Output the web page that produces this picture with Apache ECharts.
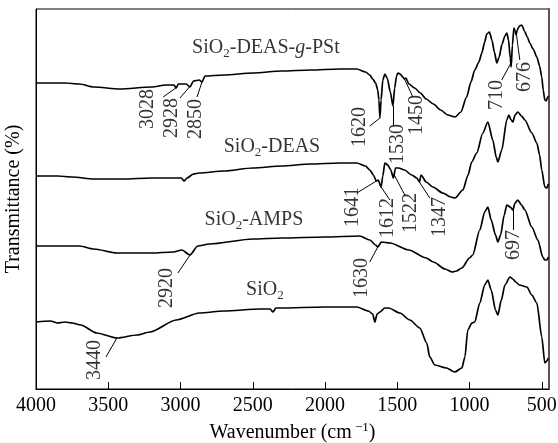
<!DOCTYPE html>
<html>
<head>
<meta charset="utf-8">
<script src="https://cdn.jsdelivr.net/npm/echarts@6/dist/echarts.min.js"></script>
<style>
  html, body { margin: 0; padding: 0; background: #fff; }
  #chart { width: 558px; height: 443px; }
</style>
</head>
<body>
<div id="chart"></div>
<script>
// FTIR spectra, stacked with vertical offsets: [wavenumber (cm-1), transmittance (a.u.)]
const xTicks = [4000, 3500, 3000, 2500, 2000, 1500, 1000, 500];

const specGPSt = [
  [4000,306],[3800,306],[3700,305],[3600,302],[3420,300],[3200,302],[3100,304],[3045,304],
  [3030,301],[3015,305],[2960,305],[2935,302],[2910,308],[2870,309],[2852,307],[2830,313],
  [2700,314],[2500,316],[2300,318],[2100,319],[1900,320],[1780,320],[1720,317],[1690,314],
  [1670,310],[1650,306],[1635,299],[1627,289],[1620,271],[1612,289],[1600,309],[1586,315],
  [1570,311],[1548,297],[1530,283],[1518,301],[1505,313],[1495,316],[1480,315],[1462,312],
  [1450,310],[1440,311],[1420,305],[1380,301],[1340,296],[1300,290],[1250,285],[1200,279],
  [1150,274],[1100,272],[1060,277],[1020,292],[990,307],[964,319],[935,327],[915,336],
  [895,347],[881,355],[862,357],[845,349],[828,337],[811,326],[795,332],[775,345],
  [755,353],[742,356],[730,349],[718,331],[712,322],[703,344],[693,361],[684,358],
  [678,354],[670,359],[655,363],[638,364],[620,358],[600,352],[583,346],[560,340],
  [534,332],[515,323],[500,312],[490,299],[479,289],[470,288],[459,292],[452,293]
];

const specDEAS = [
  [4000,213],[3850,213],[3750,212],[3600,210],[3400,210],[3200,211],[3050,211],[2995,211],
  [2975,208],[2955,211],[2910,215],[2870,216],[2700,218],[2500,221],[2300,223],[2100,225],
  [1900,226],[1780,226],[1720,223],[1690,219],[1665,214],[1645,208],[1632,209],[1612,202],
  [1600,213],[1586,226],[1565,224],[1545,219],[1527,211],[1512,221],[1490,221],[1450,219],
  [1400,214],[1365,211],[1347,207],[1335,214],[1300,207],[1254,202],[1185,196],[1130,192],
  [1100,191],[1046,199],[1010,214],[985,227],[950,236],[908,256],[873,267],[839,249],
  [815,232],[804,227],[777,239],[742,269],[728,274],[712,269],[700,267],[685,274],
  [666,277],[640,273],[617,269],[569,256],[534,246],[515,234],[500,219],[479,202],
  [465,201],[455,205]
];

const specAMPS = [
  [4000,143],[3700,143],[3600,140],[3440,136],[3200,136],[3050,137],[2990,139],[2935,134],
  [2880,143],[2800,145],[2500,150],[2300,151],[2000,152],[1760,153],[1690,149],[1650,144],
  [1635,142],[1610,147],[1550,146],[1420,139],[1300,131],[1250,127],[1170,120],[1120,117],
  [1090,118],[1053,121],[1000,131],[978,134],[929,159],[895,177],[873,182],[850,169],
  [820,154],[804,147],[785,154],[760,174],[742,184],[718,182],[700,179],[685,186],
  [666,189],[640,184],[617,179],[569,162],[527,149],[493,132],[479,129],[465,129],[455,132]
];

const specSiO2 = [
  [4000,67],[3900,68],[3850,66],[3800,67],[3750,66],[3690,64],[3580,56],[3440,51],
  [3300,54],[3211,57],[3030,69],[2870,76],[2700,78],[2450,80],[2380,80],[2360,77],
  [2340,81],[2312,81],[2000,82],[1780,82],[1700,78],[1670,75],[1655,67],[1640,75],
  [1620,77],[1586,81],[1560,81],[1482,76],[1413,69],[1344,61],[1296,46],[1275,32],
  [1240,24],[1160,21],[1102,17],[1053,21],[1032,32],[1012,59],[984,66],[964,67],
  [929,86],[895,104],[873,109],[850,99],[820,79],[804,74],[780,89],[755,104],
  [720,112],[700,110],[680,107],[655,104],[603,102],[569,94],[534,86],[500,52],
  [479,26],[465,28],[455,31]
];

const spectra = [specGPSt, specDEAS, specAMPS, specSiO2];

// Sample names (rich-text markup for subscripts / italics)
const sampleNames = [
  '{a|SiO}{b|2}{a|-DEAS-}{i|g}{a|-PSt}',
  '{a|SiO}{b|2}{a|-DEAS}',
  '{a|SiO}{b|2}{a|-AMPS}',
  '{a|SiO}{b|2}'
];

// Assigned absorption bands and the spectrum each belongs to
const peakLabels = ['3028','2928','2850','1620','1530','1450','710','676',
                    '1641','1612','1522','1347','2920','1630','697','3440'];
const peakWavenumbers = [3028, 2928, 2850, 1620, 1530, 1450, 710, 676,
                         1641, 1612, 1522, 1347, 2930, 1635, 697, 3440];
const peakSpectrum = [0,0,0,0,0,0,0,0, 1,1,1,1, 2,2,2, 3];

// Placement of annotation text and leader-line ends (data coordinates)
const nameAnchors = [[2409,341],[2367,242],[2492,169],[2416,99]];
const leaderEnds = [[3120,292],[3004,291],[2886,292],[1690,263],[1530,264],[1392,292],[777,309],[652,329],
                    [1780,196],[1551,189],[1448,194],[1275,191],[3018,116],[1690,127],[697,159],[3516,32]];
const labelAnchors = [[3225,280],[3059,271],[2893,270],[1759,262],[1496,245],[1365,274],[811,294],[618,312],
                      [1807,182],[1565,171],[1406,176],[1206,172],[3094,101],[1745,111],[694,144],[3592,29]];

const FONT = '"Liberation Serif", "Times New Roman", serif';

function valueAt(data, wn) {
  for (let i = 0; i < data.length - 1; i++) {
    const a = data[i], b = data[i + 1];
    if (wn <= a[0] && wn >= b[0]) {
      const t = (a[0] - wn) / (a[0] - b[0]);
      return a[1] + t * (b[1] - a[1]);
    }
  }
  return data[data.length - 1][1];
}

const chart = echarts.init(document.getElementById('chart'), null, { renderer: 'canvas' });

const lineSeries = spectra.map(d => ({
  type: 'line',
  data: d,
  showSymbol: false,
  smooth: 0.25,
  smoothMonotone: 'x',
  lineStyle: { color: '#000', width: 1.7 },
  silent: true,
  z: 3
}));

const leaderSeries = {
  type: 'lines',
  coordinateSystem: 'cartesian2d',
  silent: true,
  lineStyle: { color: '#000', width: 1, opacity: 1 },
  data: peakWavenumbers.map((wn, i) => ({
    coords: [[wn, valueAt(spectra[peakSpectrum[i]], wn)], leaderEnds[i]]
  })),
  z: 4
};

const peakTextSeries = {
  type: 'scatter',
  silent: true,
  symbolSize: 1,
  itemStyle: { color: 'rgba(0,0,0,0)' },
  label: {
    show: true,
    position: 'inside',
    rotate: 90,
    fontFamily: FONT,
    fontSize: 20,
    color: '#000'
  },
  data: labelAnchors.map((p, i) => ({ value: p, label: { formatter: peakLabels[i] } })),
  z: 5
};

const nameRich = {
  a: { fontFamily: FONT, fontSize: 20, color: '#000', lineHeight: 24 },
  i: { fontFamily: FONT, fontSize: 20, color: '#000', fontStyle: 'italic', lineHeight: 24 },
  b: { fontFamily: FONT, fontSize: 13, color: '#000', verticalAlign: 'bottom' }
};

const nameSeries = {
  type: 'scatter',
  silent: true,
  symbolSize: 1,
  itemStyle: { color: 'rgba(0,0,0,0)' },
  label: { show: true, position: 'inside', rich: nameRich },
  data: nameAnchors.map((p, i) => ({ value: p, label: { formatter: sampleNames[i] } })),
  z: 5
};

chart.setOption({
  animation: false,
  backgroundColor: '#fff',
  grid: {
    left: 36, right: 9, top: 9, bottom: 54,
    containLabel: false,
    outerBoundsMode: 'none',
    show: true, borderColor: '#000', borderWidth: 1, backgroundColor: 'transparent'
  },
  xAxis: {
    type: 'value',
    min: 450,
    max: 4000,
    inverse: true,
    name: '{a|Wavenumber (cm}{s| \u22121}{a|)}',
    nameLocation: 'middle',
    nameGap: 28,
    nameTextStyle: {
      rich: {
        a: { fontFamily: FONT, fontSize: 20, color: '#000', lineHeight: 24 },
        s: { fontFamily: FONT, fontSize: 13, color: '#000', verticalAlign: 'top' }
      }
    },
    axisLine: { lineStyle: { color: '#000', width: 1 } },
    axisTick: { inside: true, length: 7, customValues: xTicks, lineStyle: { color: '#000' } },
    axisLabel: {
      customValues: xTicks,
      formatter: v => String(v),
      fontFamily: FONT, fontSize: 20, color: '#000', margin: 7
    },
    splitLine: { show: false }
  },
  yAxis: [{
    type: 'value',
    min: 0,
    max: 380,
    name: 'Transmittance (%)',
    nameLocation: 'middle',
    nameGap: 12,
    nameTextStyle: { fontFamily: FONT, fontSize: 20, color: '#000' },
    axisLine: { show: true, lineStyle: { color: '#000', width: 1 } },
    axisTick: { show: false },
    axisLabel: { show: false },
    splitLine: { show: false }
  }, {
    type: 'value',
    min: 0,
    max: 380,
    position: 'right',
    axisLine: { show: true, lineStyle: { color: '#555', width: 2 } },
    axisTick: { show: false },
    axisLabel: { show: false },
    splitLine: { show: false }
  }],
  series: [...lineSeries, leaderSeries, peakTextSeries, nameSeries]
});
</script>
</body>
</html>
